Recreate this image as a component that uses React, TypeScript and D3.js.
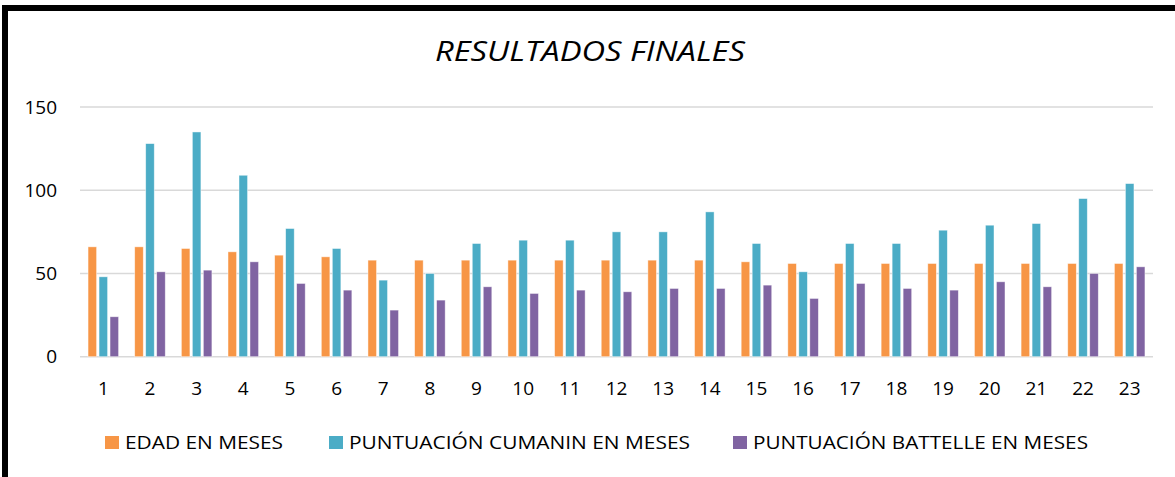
import React from 'react';
import * as d3 from 'd3';

const categories = ['1','2','3','4','5','6','7','8','9','10','11','12','13','14','15','16','17','18','19','20','21','22','23'];
const edad = [66, 66, 65, 63, 61, 60, 58, 58, 58, 58, 58, 58, 58, 58, 57, 56, 56, 56, 56, 56, 56, 56, 56];
const cumanin = [48, 128, 135, 109, 77, 65, 46, 50, 68, 70, 70, 75, 75, 87, 68, 51, 68, 68, 76, 79, 80, 95, 104];
const battelle = [24, 51, 52, 57, 44, 40, 28, 34, 42, 38, 40, 39, 41, 41, 43, 35, 44, 41, 40, 45, 42, 50, 54];
const yTicks = [0, 50, 100, 150];

const seriesNames = ['EDAD EN MESES', 'PUNTUACIÓN CUMANIN EN MESES', 'PUNTUACIÓN BATTELLE EN MESES'];
const colors = ['#F79646', '#4BACC6', '#8064A2'];

const W = 1175;
const H = 477;
const font = "'Open Sans', 'DejaVu Sans', sans-serif";

export default function App() {
  const series = [edad, cumanin, battelle];

  const x0 = d3.scaleBand<string>()
    .domain(categories)
    .range([80, 1153])
    .paddingInner(0.345)
    .paddingOuter(0.1725);

  const x1 = d3.scaleBand<number>()
    .domain([0, 1, 2])
    .range([0, x0.bandwidth()])
    .paddingInner(0.22);

  const y = d3.scaleLinear().domain([0, 150]).range([356.7, 107]);

  // legend layout: marker x, text width (to match the wider original font)
  const legendX = [105, 329, 733];
  const legendLen = [158, 341, 335];

  return (
    <svg width={W} height={H} style={{ position: 'absolute', left: 0, top: 0, background: '#fff' }}>
      <rect x={0} y={0} width={W} height={H} fill="#fff" />
      <rect x={5} y={8} width={W + 20} height={H + 20} fill="none" stroke="#000" strokeWidth={6} />

      <text x={435} y={61} fontFamily={font} fontStyle="italic" fontSize={27} fill="#000"
        textLength={310} lengthAdjust="spacingAndGlyphs">
        RESULTADOS FINALES
      </text>

      {yTicks.map(t => (
        <g key={t}>
          <line x1={80} x2={1153} y1={y(t)} y2={y(t)} stroke="#d9d9d9" strokeWidth={1.5} />
          <text x={57} y={y(t)} dy="0.35em" textAnchor="end" fontFamily={font} fontSize={19} fill="#000">{t}</text>
        </g>
      ))}

      {categories.map((c, i) => (
        <g key={c} transform={`translate(${x0(c)},0)`}>
          {series.map((s, j) => (
            <rect key={j}
              x={x1(j)}
              y={y(s[i])}
              width={x1.bandwidth()}
              height={y(0) - y(s[i])}
              fill={colors[j]}
              stroke="#fff"
              strokeOpacity={0.6}
              strokeWidth={0.75} />
          ))}
          <text x={x0.bandwidth() / 2} y={395} textAnchor="middle" fontFamily={font} fontSize={19} fill="#000">{c}</text>
        </g>
      ))}

      {seriesNames.map((name, j) => (
        <g key={name}>
          <rect x={legendX[j]} y={436} width={14} height={13} fill={colors[j]} />
          <text x={legendX[j] + 20} y={448.5} fontFamily={font} fontSize={19} fill="#000"
            textLength={legendLen[j]} lengthAdjust="spacingAndGlyphs">{name}</text>
        </g>
      ))}
    </svg>
  );
}
